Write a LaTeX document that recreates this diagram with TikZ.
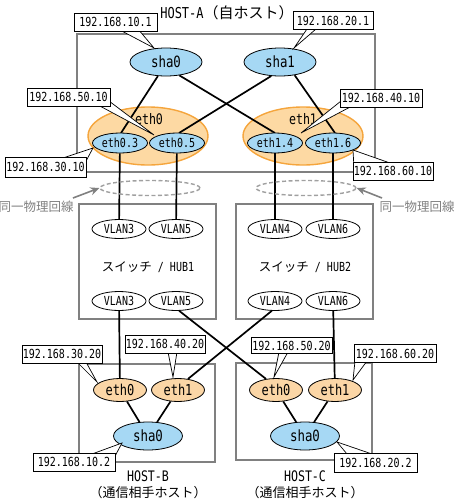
\documentclass[tikz,border=0pt]{standalone}
\usepackage{fontspec}
\setmainfont{Noto Sans CJK JP}
\newfontfamily\asc[FakeStretch=0.8]{DejaVu Sans Mono}
\usetikzlibrary{arrows.meta,shapes.geometric}
\definecolor{lblue}{HTML}{A6D8F4}
\definecolor{lorg}{HTML}{FDD9A3}
\definecolor{dorg}{HTML}{F5A53C}
\definecolor{horg}{HTML}{FBD6A6}
\definecolor{boxgray}{HTML}{808080}
\newcommand{\fs}[1]{\fontsize{#1}{#1}\selectfont}
\tikzset{
  hostbox/.style={draw=boxgray,line width=1.4pt,inner sep=0pt},
  blueov/.style={ellipse,draw,line width=0.8pt,fill=lblue,inner sep=0pt},
  orgov/.style={ellipse,draw,line width=0.8pt,fill=horg,inner sep=0pt},
  bigorg/.style={ellipse,draw=dorg,line width=1.4pt,fill=lorg,inner sep=0pt,minimum width=120pt,minimum height=58pt},
  subov/.style={blueov,minimum width=55pt,minimum height=20pt,font=\asc\fs{12.5}},
  shaov/.style={blueov,font=\asc\fs{15.5}},
  hethov/.style={orgov,minimum width=53pt,minimum height=23pt,font=\asc\fs{15}},
  vlanov/.style={ellipse,draw,line width=0.8pt,fill=white,inner sep=0pt,minimum width=54pt,minimum height=19pt,font=\asc\fs{12.5}},
  ipbox/.style={rectangle,draw,line width=0.8pt,fill=white,inner sep=0pt,minimum height=18pt,font=\asc\fs{12.5}},
  wire/.style={line width=1.7pt},
  ptr/.style={draw,line width=0.7pt,fill=white},
  dashov/.style={ellipse,draw=boxgray!75,dash pattern=on 4pt off 2.5pt,line width=1.4pt,minimum width=100pt,minimum height=15pt,inner sep=0pt},
  garrow/.style={draw=boxgray,line width=1.6pt,-{Stealth[length=9pt,width=8pt]}},
  jpl/.style={inner sep=0pt,font=\fs{12.5}},
}
\begin{document}
\begin{tikzpicture}[x=1pt,y=-1pt]
\useasboundingbox (0,0) rectangle (453,501);
% host A
\node[hostbox,minimum width=298pt,minimum height=138pt] (hostA) at (226,103) {};
\node[jpl,font=\fs{13}] (titleA) at (227,13) {\asc\fs{15}HOST-A\rmfamily（自ホスト）};
\node[bigorg] (eth0g) at (148,136) {};
\node[bigorg] (eth1g) at (303,136) {};
\node[inner sep=0pt,font=\asc\fs{14.5}] (eth0t) at (149,119) {eth0};
\node[inner sep=0pt,font=\asc\fs{14.5}] (eth1t) at (303,119) {eth1};
\node[shaov,minimum width=72pt,minimum height=28pt] (shaA0) at (166,62) {sha0};
\node[shaov,minimum width=72pt,minimum height=28pt] (shaA1) at (280,62) {sha1};
\coordinate (e03n) at (121,133);
\coordinate (e05n) at (179,133);
\coordinate (e14n) at (275,133);
\coordinate (e16n) at (335,133);
\draw[wire] (shaA0.240) -- (e03n);
\draw[wire] (shaA0.-45) -- (e14n);
\draw[wire] (shaA1.238) -- (e05n);
\draw[wire] (shaA1.-42) -- (e16n);
\node[subov] (e03) at (120,143) {eth0.3};
\node[subov] (e05) at (177,143) {eth0.5};
\node[subov] (e14) at (275,143) {eth1.4};
\node[subov] (e16) at (333,143) {eth1.6};
% hubs
\node[hostbox,minimum width=137pt,minimum height=115pt] (hub1) at (147.5,261.5) {};
\node[hostbox,minimum width=137pt,minimum height=115pt] (hub2) at (304.5,261.5) {};
\node[jpl] (hub1t) at (148,267) {スイッチ\asc\ / HUB1};
\node[jpl] (hub2t) at (305,267) {スイッチ\asc\ / HUB2};
\node[vlanov] (v3t) at (119,229) {VLAN3};
\node[vlanov] (v5t) at (176,229) {VLAN5};
\node[vlanov] (v4t) at (275,229) {VLAN4};
\node[vlanov] (v6t) at (333,229) {VLAN6};
\node[vlanov] (v3b) at (119,301) {VLAN3};
\node[vlanov] (v5b) at (176,301) {VLAN5};
\node[vlanov] (v4b) at (275,301) {VLAN4};
\node[vlanov] (v6b) at (333,301) {VLAN6};
% host B, C
\node[hostbox,minimum width=136pt,minimum height=98pt] (hostB) at (147,413) {};
\node[hostbox,minimum width=136pt,minimum height=97pt] (hostC) at (304,411.5) {};
\node[hethov] (b0) at (120,390) {eth0};
\node[hethov] (b1) at (178,390) {eth1};
\node[shaov,minimum width=69pt,minimum height=28pt] (bs) at (148,436) {sha0};
\node[hethov] (c0) at (276,390) {eth0};
\node[hethov] (c1) at (335,390) {eth1};
\node[shaov,minimum width=69pt,minimum height=28pt] (cs) at (305,436) {sha0};
\node[inner sep=0pt,font=\asc\fs{14.5}] (hbt) at (148,476) {HOST-B};
\node[jpl,font=\fs{13}] (hbs) at (148,493) {（通信相手ホスト）};
\node[inner sep=0pt,font=\asc\fs{14.5}] (hct) at (305,476) {HOST-C};
\node[jpl,font=\fs{13}] (hcs) at (305,493) {（通信相手ホスト）};
% wires between
\draw[wire] (e03) -- (v3t);
\draw[wire] (e05) -- (v5t);
\draw[wire] (e14) -- (v4t);
\draw[wire] (e16) -- (v6t);
\draw[wire] (v3b) -- (b0);
\draw[wire] (v5b.-72) -- (c0.132);
\draw[wire] (v4b.-108) -- (b1.48);
\draw[wire] (v6b) -- (c1);
\draw[wire] (b0) -- (bs);
\draw[wire] (b1) -- (bs);
\draw[wire] (c0) -- (cs);
\draw[wire] (c1) -- (cs);
% dashed ovals and arrows
\node[dashov] (d1) at (150,188) {};
\node[dashov] (d2) at (306,188) {};
\node[jpl,text=boxgray] (s1) at (36,207) {同一物理回線};
\node[jpl,text=boxgray] (s2) at (417,207) {同一物理回線};
\coordinate (a1s) at (73,198);
\coordinate (a2s) at (382,198);
\draw[garrow] (a1s) -- (d1.west);
\draw[garrow] (a2s) -- (d2.east);
% callouts
\coordinate (t1) at (154,48);
\coordinate (t2) at (294,48);
\coordinate (t3) at (154,135);
\coordinate (t4) at (93,148);
\coordinate (t5) at (301,133);
\coordinate (t6) at (353,150);
\coordinate (t7) at (97,382);
\coordinate (t8) at (173,377);
\coordinate (t9) at (122,443);
\coordinate (t10) at (274,377);
\coordinate (t11) at (353,380);
\coordinate (t12) at (337,442);
\draw[ptr] (118,29) -- (t1) -- (138,29);
\draw[ptr] (307,29) -- (t2) -- (316,29);
\draw[ptr] (98,105) -- (t3) -- (109,101);
\draw[ptr] (63,158) -- (t4) -- (85,163);
\draw[ptr] (341,101) -- (t5) -- (352,106);
\draw[ptr] (354,168) -- (t6) -- (390,163);
\draw[ptr] (77,362) -- (t7) -- (86,362);
\draw[ptr] (168,352) -- (t8) -- (177,352);
\draw[ptr] (92,454) -- (t9) -- (114,458);
\draw[ptr] (279,352) -- (t10) -- (288,352);
\draw[ptr] (355,361) -- (t11) -- (367,361);
\draw[ptr] (347,454) -- (t12) -- (372,454);
\node[ipbox,minimum width=83pt] (l1) at (115.5,22) {192.168.10.1};
\node[ipbox,minimum width=80pt] (l2) at (333,20.5) {192.168.20.1};
\node[ipbox,minimum width=83pt] (l3) at (68.5,97) {192.168.50.10};
\node[ipbox,minimum width=81pt,minimum height=20pt] (l4) at (45.5,167) {192.168.30.10};
\node[ipbox,minimum width=82pt] (l5) at (381,98) {192.168.40.10};
\node[ipbox,minimum width=80pt] (l6) at (393,171) {192.168.60.10};
\node[ipbox,minimum width=80pt] (l7) at (62,354) {192.168.30.20};
\node[ipbox,minimum width=80pt] (l8) at (165,344) {192.168.40.20};
\node[ipbox,minimum width=82pt] (l9) at (74,462) {192.168.10.2};
\node[ipbox,minimum width=81pt,minimum height=16pt] (l10) at (291.5,345.5) {192.168.50.20};
\node[ipbox,minimum width=82pt] (l11) at (395,353.5) {192.168.60.20};
\node[ipbox,minimum width=83pt,minimum height=19pt] (l12) at (375.5,462.5) {192.168.20.2};
\end{tikzpicture}
\end{document}
